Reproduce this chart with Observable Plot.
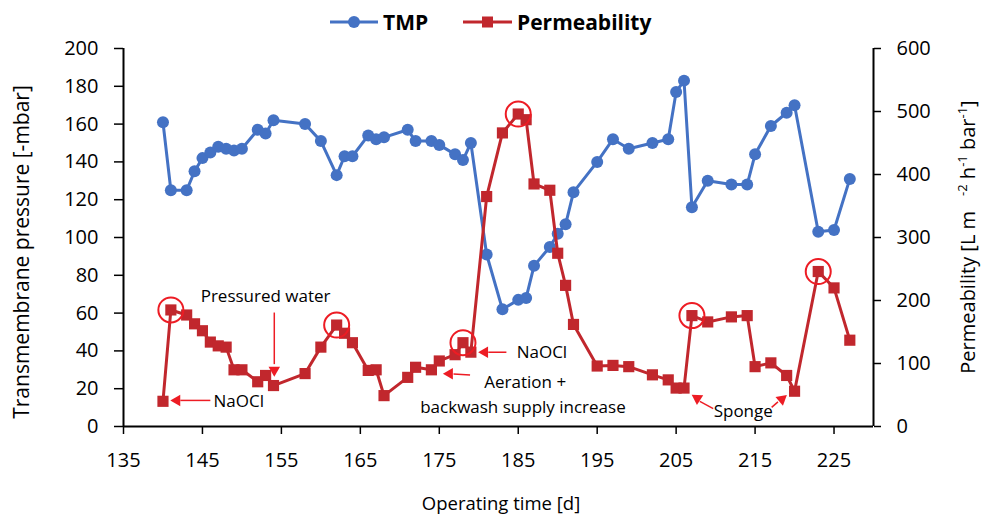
<!DOCTYPE html>
<html>
<head>
<meta charset="utf-8">
<script src="https://cdn.jsdelivr.net/npm/d3@7"></script>
<script src="https://cdn.jsdelivr.net/npm/@observablehq/plot@0.6"></script>
<style>
  body { margin: 0; background: #fff; font-family: "Open Sans", sans-serif; }
  #wrap { position: relative; width: 982px; height: 516px; overflow: hidden; background: #fff; }
  #chart { position: absolute; left: 0; top: 0; }
  .lbl { position: absolute; color: #000; font-family: "Open Sans", sans-serif; font-size: 20px; white-space: nowrap; line-height: 1; }
  .leg { position: absolute; font-weight: bold; font-size: 21px; color: #000; line-height: 1; white-space: nowrap; }
  sup { font-size: 13px; vertical-align: 8px; line-height: 0; }
</style>
</head>
<body>
<div id="wrap">
  <div id="chart"></div>
</div>
<script>
// ---- data ----
const days = [140,141,143,144,145,146,147,148,149,150,152,153,154,158,160,162,163,164,166,167,168,171,172,174,175,177,178,179,181,183,185,186,187,189,190,191,192,195,197,199,202,204,205,206,207,209,212,214,215,217,219,220,223,225,227];
const tmp = [161,125,125,135,142,145,148,147,146,147,157,155,162,160,151,133,143,143,154,152,153,157,151,151,149,144,141,150,91,62,67,68,85,95,102,107,124,140,152,147,150,152,177,183,116,130,128,128,144,159,166,170,103,104,131];
const perm = [40,185,177,163,152,134,128,126,90,90,71,81,65,84,126,161,148,133,89,90,49,78,94,90,104,114,133,118,365,466,496,487,385,375,275,224,162,96,97,95,82,74,61,61,176,166,174,176,95,101,81,56,246,220,137];
const circledDays = [141,162,178,185,207,223];
const xTicks = [135,145,155,165,175,185,195,205,215,225];
const leftTicks = [0,20,40,60,80,100,120,140,160,180,200];
const rightTicks = [0,100,200,300,400,500,600];

// annotations (in data units: day, TMP axis)
const notesStart = [
  {day:146.4, y:13.0, text:"NaOCl"},
  {day:184.8, y:39.3, text:"NaOCl"},
  {day:180.7, y:23.4, text:"Aeration +"}
];
const notesMiddle = [
  {day:153.0, y:69.0, text:"Pressured water"},
  {day:185.6, y:10.2, text:"backwash supply increase"},
  {day:213.5, y:7.9, text:"Sponge"}
];
const arrowLines = [
  {x1:146.0, y1:13.8, x2:142.2, y2:13.8},
  {x1:154.1, y1:60.3, x2:154.1, y2:33.0},
  {x1:183.5, y1:39.3, x2:181.2, y2:39.3},
  {x1:178.9, y1:27.2, x2:176.8, y2:27.8},
  {x1:209.7, y1:9.5, x2:208.0, y2:13.3},
  {x1:217.1, y1:10.1, x2:217.9, y2:13.0}
];
const arrowHeads = [
  {day:141.77, y:13.8, angle:-90},
  {day:154.1, y:29.9, angle:180},
  {day:180.76, y:39.3, angle:-90},
  {day:176.3, y:27.9, angle:-90},
  {day:207.68, y:14.9, angle:-57},
  {day:218.38, y:14.4, angle:50}
];

const K = 3; // permeability units per TMP unit (600 / 200)
const rows = days.map((d, i) => ({day: d, tmp: tmp[i], perm: perm[i]}));
const circled = rows.filter(r => circledDays.includes(r.day));

const blue = "#4472c4";
const red = "#c1272d";
const bright = "#ed1c24";

const chart = Plot.plot({
  width: 982,
  height: 516,
  marginLeft: 123,
  marginRight: 109,
  marginTop: 48,
  marginBottom: 90,
  style: {fontFamily: '"Open Sans", sans-serif', fontSize: "20px", color: "#000", background: "white", overflow: "visible"},
  x: {domain: [135, 230]},
  y: {domain: [0, 200]},
  marks: [
    Plot.axisX(xTicks, {tickSize: 8, tickPadding: 18, label: null, strokeWidth: 1.5, fontSize: 20}),
    Plot.axisY(leftTicks, {anchor: "left", tickSize: 9, tickPadding: 16, label: null, strokeWidth: 1.5, fontSize: 20}),
    Plot.axisY(rightTicks.map(v => v / K), {anchor: "right", tickFormat: v => String(Math.round(v * K)), tickSize: 7, tickPadding: 16, label: null, strokeWidth: 1.5, fontSize: 20}),
    Plot.ruleY([0], {stroke: "#000", strokeWidth: 2}),
    Plot.ruleX([135, 230], {stroke: "#000", strokeWidth: 2}),
    // TMP
    Plot.line(rows, {x: "day", y: "tmp", stroke: blue, strokeWidth: 3}),
    Plot.dot(rows, {x: "day", y: "tmp", fill: blue, r: 6, symbol: "circle"}),
    // Permeability (mapped onto the left scale by 1/K)
    Plot.line(rows, {x: "day", y: d => d.perm / K, stroke: red, strokeWidth: 3}),
    Plot.dot(rows, {x: "day", y: d => d.perm / K, fill: red, r: 6.3, symbol: "square"}),
    Plot.dot(circled, {x: "day", y: d => d.perm / K, r: 12.5, stroke: bright, strokeWidth: 2, fill: "none"}),
    // annotations
    Plot.link(arrowLines, {x1: "x1", y1: "y1", x2: "x2", y2: "y2", stroke: bright, strokeWidth: 1.5}),
    Plot.dot(arrowHeads, {x: "day", y: "y", rotate: "angle", symbol: "triangle2", r: 5.5, fill: bright}),
    Plot.text(notesStart, {x: "day", y: "y", text: "text", textAnchor: "start", fontSize: 17, fill: "#000"}),
    Plot.text(notesMiddle, {x: "day", y: "y", text: "text", textAnchor: "middle", fontSize: 17, fill: "#000"})
  ]
});
document.getElementById("chart").appendChild(chart);

// titles and legend
const wrap = document.getElementById("wrap");
function addDiv(cls, html, style) {
  const el = document.createElement("div");
  el.className = cls;
  el.innerHTML = html;
  Object.assign(el.style, style);
  wrap.appendChild(el);
  return el;
}
// left title
addDiv("lbl", "Transmembrane pressure [-mbar]", {left: "21px", top: "252px", fontSize: "21px", transform: "translate(-50%,-50%) rotate(-90deg)"});
// right title
addDiv("lbl", "Permeability [L m<span style=\"display:inline-block;width:15px\"></span><sup>-2</sup> h<sup>-1</sup> bar<sup>-1</sup>]", {left: "968px", top: "237px", transform: "translate(-50%,-50%) rotate(-90deg)"});
// x title
addDiv("lbl", "Operating time [d]", {left: "501px", top: "503px", fontSize: "18.5px", transform: "translate(-50%,-50%)"});

// legend swatches
const legSvg = d3.create("svg").attr("width", 982).attr("height", 44)
  .style("position", "absolute").style("left", "0px").style("top", "0px");
legSvg.append("line").attr("x1", 330).attr("x2", 378).attr("y1", 22).attr("y2", 22).attr("stroke", blue).attr("stroke-width", 3);
legSvg.append("circle").attr("cx", 354).attr("cy", 22).attr("r", 6).attr("fill", blue);
legSvg.append("line").attr("x1", 463).attr("x2", 512).attr("y1", 22).attr("y2", 22).attr("stroke", red).attr("stroke-width", 3);
legSvg.append("rect").attr("x", 482).attr("y", 16.5).attr("width", 11).attr("height", 11).attr("fill", red);
wrap.appendChild(legSvg.node());
addDiv("leg", "TMP", {left: "383px", top: "22px", transform: "translateY(-50%)"});
addDiv("leg", "Permeability", {left: "517px", top: "22px", transform: "translateY(-50%)"});
</script>
</body>
</html>
